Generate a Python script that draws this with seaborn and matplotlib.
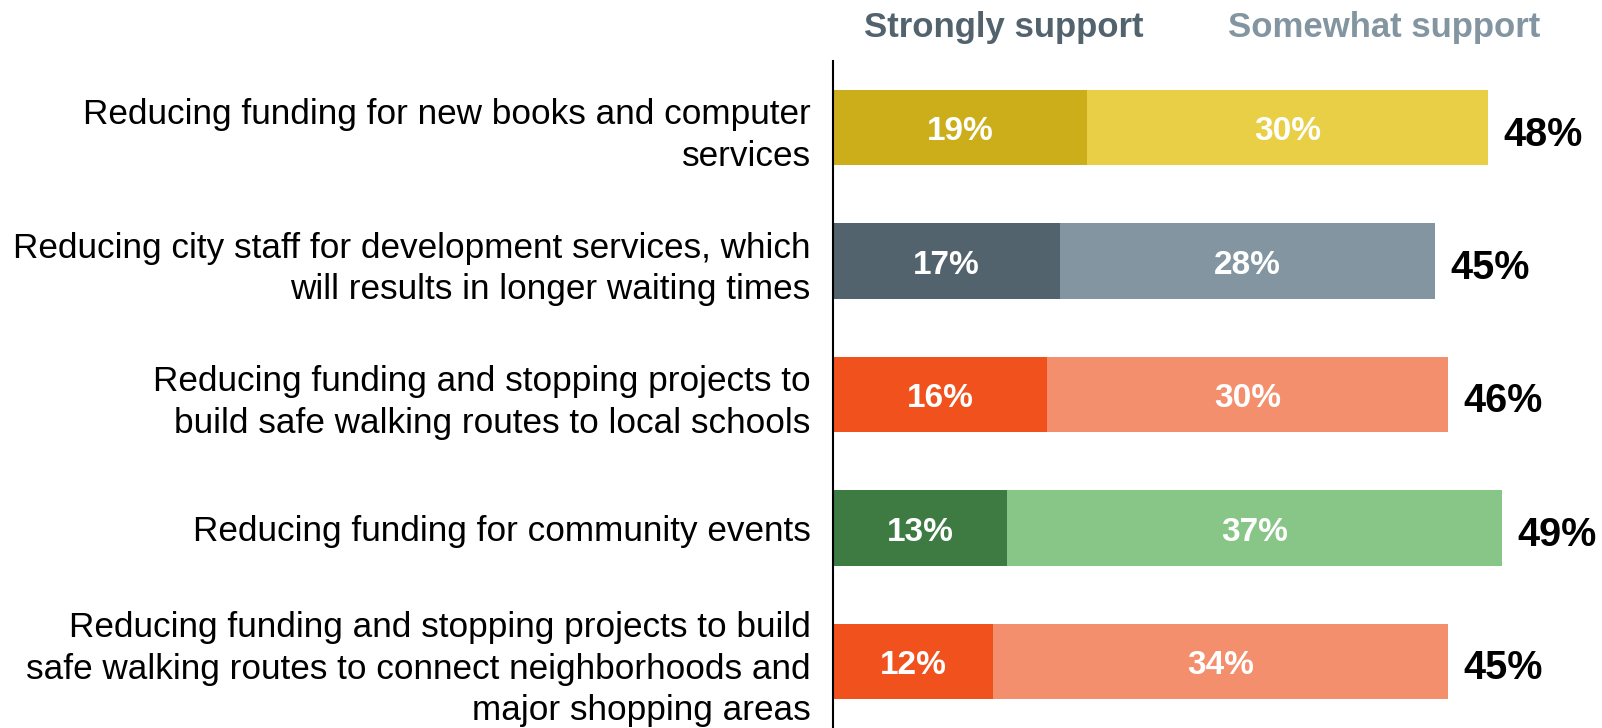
import pandas as pd
import matplotlib
matplotlib.use("Agg")
import matplotlib.pyplot as plt
import seaborn as sns

# data
categories = [
    "Reducing funding for new books and computer\nservices",
    "Reducing city staff for development services, which\nwill results in longer waiting times",
    "Reducing funding and stopping projects to\nbuild safe walking routes to local schools",
    "Reducing funding for community events",
    "Reducing funding and stopping projects to build\nsafe walking routes to connect neighborhoods and\nmajor shopping areas",
]
strongly = [19, 17, 16, 13, 12]
somewhat = [30, 28, 30, 37, 34]
totals = [48, 45, 46, 49, 45]

strong_colors = ["#CBAE19", "#52636E", "#F1511D", "#3D7B43", "#F1511D"]
light_colors = ["#E9CF45", "#8395A0", "#F48F6D", "#88C687", "#F48F6D"]

df = pd.DataFrame({"cat": categories, "strong": strongly, "some": somewhat, "total": totals})
df["stack"] = df["strong"] + df["some"]

sns.set_style("white")
plt.rcParams["font.family"] = ["Liberation Sans", "DejaVu Sans"]

fig = plt.figure(figsize=(16.02, 7.28), dpi=100)
ax = fig.add_axes([833 / 1602, 0, 1 - 833 / 1602, 1 - 61 / 728])

sns.barplot(data=df, y="cat", x="stack", hue="cat", palette=light_colors,
            orient="h", width=0.565, legend=False, ax=ax, saturation=1, linewidth=0)
sns.barplot(data=df, y="cat", x="strong", hue="cat", palette=strong_colors,
            orient="h", width=0.565, legend=False, ax=ax, saturation=1, linewidth=0)

for i, row in df.iterrows():
    ax.annotate(f"{row['strong']}%", (row["strong"] / 2, i), xytext=(0, -3),
                textcoords="offset points", ha="center", va="center",
                color="white", fontsize=24, fontweight="bold")
    ax.annotate(f"{row['some']}%", (row["strong"] + row["some"] / 2, i), xytext=(0, -3),
                textcoords="offset points", ha="center", va="center",
                color="white", fontsize=24, fontweight="bold")
    ax.annotate(f"{row['total']}%", (row["stack"], i), xytext=(11, -5),
                textcoords="offset points", ha="left", va="center",
                color="black", fontsize=28.5, fontweight="bold")

ax.set_xlim(0, 57.5)
ax.set_ylim(4.5, -0.5)
ax.set_xlabel("")
ax.set_ylabel("")
ax.set_xticks([])
ax.tick_params(axis="y", length=0, pad=16, labelsize=25.3, labelcolor="black")
for lab in ax.get_yticklabels():
    lab.set_horizontalalignment("right")
    lab.set_multialignment("right")
    lab.set_linespacing(1.33)
for s in ["top", "right", "bottom"]:
    ax.spines[s].set_visible(False)
ax.spines["left"].set_color("black")
ax.spines["left"].set_linewidth(1.5)

fig.text(1004 / 1602, 1 - 28 / 728, "Strongly support", ha="center", va="center",
         color="#52636E", fontsize=25, fontweight="bold")
fig.text(1384 / 1602, 1 - 28 / 728, "Somewhat support", ha="center", va="center",
         color="#8395A0", fontsize=25, fontweight="bold")

fig.savefig("out.png", dpi=100)
